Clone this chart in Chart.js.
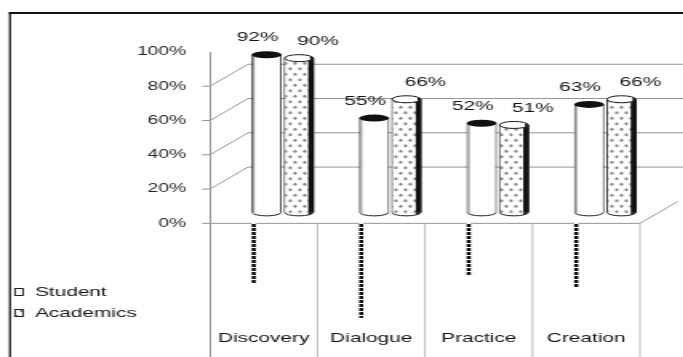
<!DOCTYPE html>
<html>
<head>
<meta charset="utf-8">
<title>Student vs Academics</title>
<script src="https://cdn.jsdelivr.net/npm/chart.js@4.4.1/dist/chart.umd.min.js"></script>
<style>
  html, body { margin: 0; padding: 0; background: #fff; overflow: hidden; }
  /* the chart is drawn narrow and widened, giving the broad lettering */
  #wrap { width: 427px; height: 357px; transform: scaleX(1.6); transform-origin: 0 0; }
  canvas { display: block; }
</style>
</head>
<body>
<div id="wrap"><canvas id="chart" width="427" height="357"></canvas></div>
<script>
const categories   = ['Discovery', 'Dialogue', 'Practice', 'Creation'];
const seriesNames  = ['Student', 'Academics'];
const studentPct   = [92, 55, 52, 63];
const academicsPct = [90, 66, 51, 66];
const dropLines    = [-35, -55, -30, -37];
const yTickValues  = [0, 20, 40, 60, 80, 100];

const FONT  = "'Liberation Sans', Arial, Helvetica, sans-serif";
const INK   = '#141414';
const DEPTH = { x: 23.75, y: -22 };  // side wall depth (front edge -> back wall)
const SHIFT = { x: 11.9, y: -11 };   // cylinders stand half-way into the depth
const LABEL_OFFSET = [-5.6, 11.9];   // value label nudge per series

function dotPattern() {
  const c = document.createElement('canvas');
  c.width = 6; c.height = 11;
  const g = c.getContext('2d');
  g.fillStyle = '#fff'; g.fillRect(0, 0, 6, 11);
  g.fillStyle = '#808080';
  [[1.5, 2.75], [4.5, 8.25]].forEach(([x, y]) => {
    g.beginPath(); g.ellipse(x, y, 1.0, 1.5, 0, 0, Math.PI * 2); g.fill();
  });
  return g.createPattern(c, 'repeat');
}
function beadPattern() {
  const c = document.createElement('canvas');
  c.width = 2; c.height = 4;
  const g = c.getContext('2d');
  g.fillStyle = '#fff'; g.fillRect(0, 0, 2, 4);
  g.fillStyle = '#111'; g.fillRect(0, 0, 2, 3);
  return g.createPattern(c, 'repeat');
}

const dots  = dotPattern();
const beads = beadPattern();

const cylinderPlugin = {
  id: 'cylinders',
  beforeDraw(chart) {
    const { ctx } = chart;
    ctx.save();
    ctx.fillStyle = '#fff';
    ctx.fillRect(0, 0, chart.width, chart.height);
    // page frame
    ctx.strokeStyle = '#111';
    ctx.lineWidth = 2;
    ctx.beginPath(); ctx.moveTo(5.6, 13); ctx.lineTo(chart.width, 13); ctx.stroke();
    ctx.lineWidth = 1.25;
    ctx.beginPath(); ctx.moveTo(6.25, 12); ctx.lineTo(6.25, chart.height); ctx.stroke();
    ctx.restore();
  },
  beforeDatasetsDraw(chart) {
    const { ctx, chartArea: a, scales: { x: xs, y: ys } } = chart;
    const y0 = ys.getPixelForValue(0);
    ctx.save();
    ctx.lineWidth = 1;
    ctx.strokeStyle = '#959595';
    // side wall and back wall gridlines
    yTickValues.filter(v => v > 0 && v < 100).forEach(v => {
      const py = ys.getPixelForValue(v);
      ctx.beginPath();
      ctx.moveTo(a.left - 5, py);
      ctx.lineTo(a.left, py);
      ctx.lineTo(a.left + DEPTH.x, py + DEPTH.y);
      ctx.lineTo(chart.width, py + DEPTH.y);
      ctx.stroke();
    });
    // floor edge
    ctx.beginPath();
    ctx.moveTo(a.left - 5, y0);
    ctx.lineTo(a.right, y0);
    ctx.lineTo(a.right + DEPTH.x, y0 + DEPTH.y);
    ctx.stroke();
    // category dividers below the floor
    ctx.strokeStyle = '#bdbdbd';
    for (let i = 1; i <= categories.length; i++) {
      const px = i < categories.length
        ? (xs.getPixelForValue(i - 1) + xs.getPixelForValue(i)) / 2
        : a.right;
      ctx.beginPath(); ctx.moveTo(px, y0); ctx.lineTo(px, a.bottom); ctx.stroke();
    }
    ctx.restore();
  },
  beforeDatasetDraw(chart, args) {
    const { ctx } = chart;
    ctx.save();
    if (args.index < 2) ctx.translate(SHIFT.x, SHIFT.y);
    else ctx.translate(-6.25, 0);
  },
  afterDatasetDraw(chart, args) {
    const { ctx } = chart;
    if (args.index < 2) {
      const ds = chart.data.datasets[args.index];
      args.meta.data.forEach((bar, i) => {
        const { x, y, base, width } = bar.getProps(['x', 'y', 'base', 'width'], true);
        const l = x - width / 2, r = x + width / 2, rx = width / 2, ry = 3.5;
        ctx.lineWidth = 1;
        // rounded foot
        ctx.beginPath();
        ctx.ellipse(x, base, rx - 0.5, ry, 0, 0, Math.PI);
        ctx.fillStyle = ds.backgroundColor;
        ctx.fill();
        if (args.index === 1) {
          ctx.save(); ctx.clip();
          ctx.fillStyle = '#111';
          ctx.fillRect(r - 3.6, base - 1, 3.6, ry + 2);
          ctx.restore();
        }
        ctx.strokeStyle = '#222';
        ctx.stroke();
        if (args.index === 0) {
          // shaded left rim
          ctx.fillStyle = '#9a9a9a';
          ctx.fillRect(l + 0.8, y, 1.2, base - y + 2);
          // dark lid
          ctx.beginPath();
          ctx.ellipse(x, y, rx, ry, 0, 0, Math.PI * 2);
          ctx.fillStyle = '#111';
          ctx.fill();
        } else {
          // shadowed right side
          ctx.fillStyle = '#111';
          ctx.fillRect(r - 3.6, y, 3.6, base - y);
          // open lid
          ctx.beginPath();
          ctx.ellipse(x, y, rx - 0.5, ry, 0, 0, Math.PI * 2);
          ctx.fillStyle = '#fff';
          ctx.fill();
          ctx.save(); ctx.clip();
          ctx.fillStyle = '#111';
          ctx.fillRect(r - 2.5, y - ry, 2.5, ry * 2);
          ctx.restore();
          ctx.strokeStyle = '#1a1a1a';
          ctx.stroke();
        }
        // value label
        ctx.fillStyle = INK;
        ctx.font = '13px ' + FONT;
        ctx.textAlign = 'center';
        ctx.textBaseline = 'middle';
        ctx.fillText(ds.data[i] + '%', x + LABEL_OFFSET[args.index], y - 17);
      });
    }
    ctx.restore();
  },
  afterDraw(chart) {
    const { ctx, scales: { x: xs } } = chart;
    ctx.save();
    ctx.fillStyle = INK;
    ctx.font = '13px ' + FONT;
    ctx.textBaseline = 'middle';
    // category names
    ctx.textAlign = 'center';
    categories.forEach((c, i) => ctx.fillText(c, xs.getPixelForValue(i), 338));
    // legend
    ctx.textAlign = 'left';
    seriesNames.forEach((name, i) => {
      const cy = 292 + i * 21;
      ctx.fillStyle = chart.data.datasets[i].backgroundColor;
      ctx.fillRect(9.4, cy - 3.5, 5, 7);
      ctx.strokeStyle = '#222';
      ctx.lineWidth = 1;
      ctx.strokeRect(9.4, cy - 3.5, 5, 7);
      ctx.fillStyle = INK;
      ctx.fillText(name, 21.9, cy);
    });
    ctx.restore();
  }
};

Chart.defaults.font.family = FONT;
Chart.defaults.font.size = 13;
Chart.defaults.color = '#222';

new Chart(document.getElementById('chart'), {
  type: 'bar',
  data: {
    labels: categories,
    datasets: [
      {
        label: seriesNames[0],
        data: studentPct,
        backgroundColor: '#fff',
        borderColor: '#222',
        borderWidth: 1,
        borderSkipped: 'bottom',
        categoryPercentage: 0.6,
        barPercentage: 0.94,
        clip: false
      },
      {
        label: seriesNames[1],
        data: academicsPct,
        backgroundColor: dots,
        borderColor: '#1a1a1a',
        borderWidth: 1,
        borderSkipped: 'bottom',
        categoryPercentage: 0.6,
        barPercentage: 0.94,
        clip: false
      },
      {
        label: 'drop lines',
        data: dropLines.map(v => [v, 0]),
        backgroundColor: beads,
        borderWidth: 0,
        barThickness: 1.9,
        grouped: false,
        clip: false
      }
    ]
  },
  options: {
    responsive: false,
    animation: false,
    devicePixelRatio: 1,
    layout: { padding: { top: 52, right: 27, bottom: 0, left: 0 } },
    plugins: { legend: { display: false }, tooltip: { enabled: false } },
    scales: {
      x: { display: false, offset: true },
      y: {
        min: -78,
        max: 100,
        afterFit(s) { s.width = 131.25; s.paddingTop = 0; s.paddingBottom = 0; },
        afterBuildTicks(s) { s.ticks = yTickValues.map(v => ({ value: v })); },
        grid: { display: false },
        border: { display: true, color: '#959595' },
        ticks: { padding: 6.9, color: '#262626', font: { size: 12 }, callback: v => v + '%' }
      }
    }
  },
  plugins: [cylinderPlugin]
});
</script>
</body>
</html>
